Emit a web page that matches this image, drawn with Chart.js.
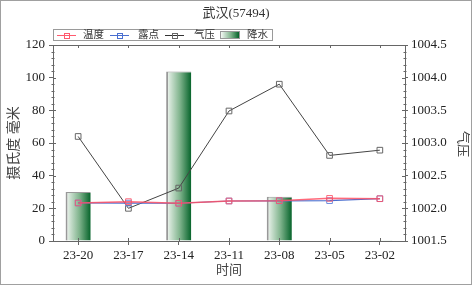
<!DOCTYPE html>
<html>
<head>
<meta charset="utf-8">
<script src="https://cdn.jsdelivr.net/npm/chart.js@4.4.0/dist/chart.umd.min.js"></script>
<style>
  body { margin: 0; background: #fff; }
  #wrap { position: relative; width: 472px; height: 286px; }
  #frame { position: absolute; left: 0; top: 0; width: 472px; height: 285px; box-sizing: border-box; border: 1px solid #a0a0a0; pointer-events: none; }
  #legend { position: absolute; left: 53px; top: 29px; width: 220px; height: 12px; box-sizing: border-box; border: 1px solid #9a9a9a; background: #fff;
            font-family: "Liberation Serif", "Noto Sans CJK SC", serif; font-size: 10.5px; color: #333; }
  #legend .ln { position: absolute; top: 5px; width: 19px; height: 0; border-top: 1px solid; }
  #legend .ln i { position: absolute; left: 7px; top: -3.5px; width: 4px; height: 4px; border: 1px solid; }
  #legend .tx { position: absolute; top: -1px; line-height: 12px; }
  #legend .gb { position: absolute; left: 166px; top: 1px; width: 20px; height: 8px; border: 1px solid #999; box-sizing: border-box;
                background: linear-gradient(to right, #f4f8f4, #7fb38c 55%, #05632a); }
</style>
</head>
<body>
<div id="wrap">
  <canvas id="chart" width="472" height="286"></canvas>
  <div id="legend">
    <span class="ln" style="left:3px;border-color:#ff5a6e"><i style="border-color:#ff5a6e"></i></span>
    <span class="tx" style="left:29px">温度</span>
    <span class="ln" style="left:56px;border-color:#4a6fd0"><i style="border-color:#4a6fd0"></i></span>
    <span class="tx" style="left:84px">露点</span>
    <span class="ln" style="left:111px;border-color:#333"><i style="border-color:#666"></i></span>
    <span class="tx" style="left:140px">气压</span>
    <span class="gb"></span>
    <span class="tx" style="left:193px">降水</span>
  </div>
  <div id="frame"></div>
</div>
<script>
// data
const labels = ['23-20', '23-17', '23-14', '23-11', '23-08', '23-05', '23-02'];
const temperature = [23.3, 24.1, 23.1, 24.5, 24.7, 26.1, 25.9];
const dewPoint = [23.3, 23.2, 23.1, 24.5, 24.6, 24.7, 25.9];
const pressure = [1003.1, 1002.0, 1002.31, 1003.49, 1003.9, 1002.81, 1002.89];
const rainfall = [30, 0, 103.7, 0, 27.1, 0, 0.5];

const fontFamily = '"Liberation Serif", "Noto Sans CJK SC", serif';
const tickFont = { family: fontFamily, size: 13 };
const titleFont = { family: fontFamily, size: 13 };
const axisColor = '#666';

// rain bars: horizontal gradient, light on the left, dark green on the right
function barGradient(ctx) {
    const chart = ctx.chart;
    const xs = chart.scales && chart.scales.x;
    if (!xs || ctx.type !== 'data') return '#3d8f55';
    const cx = xs.getPixelForValue(ctx.dataIndex);
    const half = xs.width / labels.length / 4;
    if (!isFinite(cx) || !isFinite(half) || half <= 0) return '#3d8f55';
    const g = chart.ctx.createLinearGradient(cx - half, 0, cx + half, 0);
    g.addColorStop(0, '#f4f8f4');
    g.addColorStop(0.55, '#7fb38c');
    g.addColorStop(1, '#05632a');
    return g;
}

// frame on top, inner tick halves, minor ticks and the right axis title
const framePlugin = {
    id: 'frame',
    afterDraw(chart) {
        const { ctx, chartArea: a, scales } = chart;
        ctx.save();
        ctx.strokeStyle = axisColor;
        ctx.lineWidth = 1;
        ctx.beginPath();
        ctx.moveTo(a.left, a.top + 0.5);
        ctx.lineTo(a.right, a.top + 0.5);
        // category ticks on top and bottom lines
        labels.forEach((l, i) => {
            const x = Math.round(scales.x.getPixelForValue(i)) + 0.5;
            ctx.moveTo(x, a.top); ctx.lineTo(x, a.top + 3);
            ctx.moveTo(x, a.bottom); ctx.lineTo(x, a.bottom - 3);
        });
        // left axis
        for (let v = 0; v <= 120; v += 4) {
            const y = Math.round(scales.y.getPixelForValue(v)) + 0.5;
            const len = v % 20 === 0 ? 3 : 1.5;
            ctx.moveTo(a.left - (v % 20 === 0 ? 0 : len), y);
            ctx.lineTo(a.left + len, y);
        }
        // right axis
        for (let k = 0; k <= 30; k++) {
            const v = 1001.5 + k * 0.1;
            const y = Math.round(scales.y1.getPixelForValue(v)) + 0.5;
            const major = k % 5 === 0;
            const len = major ? 3 : 1.5;
            ctx.moveTo(a.right - len, y);
            ctx.lineTo(a.right + (major ? 0 : len), y);
        }
        ctx.stroke();

        // right axis title
        ctx.translate(462, (a.top + a.bottom) / 2 + 1);
        ctx.rotate(Math.PI / 2);
        ctx.fillStyle = '#444';
        ctx.font = '13px ' + fontFamily;
        ctx.textAlign = 'center';
        ctx.textBaseline = 'middle';
        ctx.fillText('气压', 0, 0);
        ctx.restore();
    }
};

new Chart(document.getElementById('chart'), {
    data: {
        labels: labels,
        datasets: [{
            type: 'line',
            label: '温度',
            data: temperature,
            yAxisID: 'y',
            borderColor: 'rgba(255,80,100,0.85)',
            borderWidth: 1.5,
            pointStyle: 'rect',
            pointRadius: 4,
            pointBorderWidth: 1,
            pointBorderColor: 'rgba(255,80,100,0.85)',
            pointBackgroundColor: 'rgba(0,0,0,0)',
            tension: 0,
            order: 1
        }, {
            type: 'line',
            label: '露点',
            data: dewPoint,
            yAxisID: 'y',
            borderColor: '#4a6fd0',
            borderWidth: 1.2,
            pointStyle: 'rect',
            pointRadius: 4,
            pointBorderWidth: 1,
            pointBorderColor: '#6f8fe0',
            pointBackgroundColor: 'rgba(0,0,0,0)',
            tension: 0,
            order: 2
        }, {
            type: 'line',
            label: '气压',
            data: pressure,
            yAxisID: 'y1',
            borderColor: '#444',
            borderWidth: 1,
            pointStyle: 'rect',
            pointRadius: 4,
            pointBorderWidth: 1,
            pointBorderColor: '#666',
            pointBackgroundColor: 'rgba(0,0,0,0)',
            tension: 0,
            order: 3
        }, {
            type: 'bar',
            label: '降水',
            data: rainfall,
            yAxisID: 'y',
            backgroundColor: barGradient,
            borderColor: '#999',
            borderWidth: { left: 2, top: 1, right: 0, bottom: 0 },
            borderSkipped: false,
            barPercentage: 0.5,
            categoryPercentage: 1,
            order: 4
        }]
    },
    options: {
        responsive: false,
        animation: false,
        layout: { padding: 0 },
        plugins: {
            legend: { display: false },
            tooltip: { enabled: false },
            title: {
                display: true,
                text: '武汉(57494)',
                color: '#333',
                font: { family: fontFamily, size: 13, weight: 'normal' },
                padding: { top: 6, bottom: 23.4 }
            }
        },
        scales: {
            x: {
                offset: true,
                grid: { display: true, drawOnChartArea: false, offset: false, color: axisColor, tickLength: 4 },
                border: { display: true, color: axisColor },
                ticks: { color: '#222', font: tickFont, padding: 3, maxRotation: 0 },
                title: { display: true, text: '时间', color: '#444', font: titleFont, padding: { top: 2, bottom: 8 } },
                afterFit(s) { s.height = 45; }
            },
            y: {
                position: 'left',
                min: 0, max: 120,
                ticks: { stepSize: 20, color: '#222', font: tickFont, padding: 4 },
                grid: { display: true, drawOnChartArea: false, color: axisColor, tickLength: 4 },
                border: { display: true, color: axisColor },
                title: { display: true, text: '摄氏度 毫米', color: '#444', font: { family: fontFamily, size: 14 }, padding: { top: 6, bottom: 0 } },
                afterFit(s) { s.width = 53; }
            },
            y1: {
                position: 'right',
                min: 1001.5, max: 1004.5,
                ticks: { stepSize: 0.5, color: '#222', font: tickFont, padding: 3, callback: v => v.toFixed(1) },
                grid: { display: true, drawOnChartArea: false, color: axisColor, tickLength: 3 },
                border: { display: true, color: axisColor },
                title: { display: false },
                afterFit(s) { s.width = 67; }
            }
        }
    },
    plugins: [framePlugin]
});
</script>
</body>
</html>
